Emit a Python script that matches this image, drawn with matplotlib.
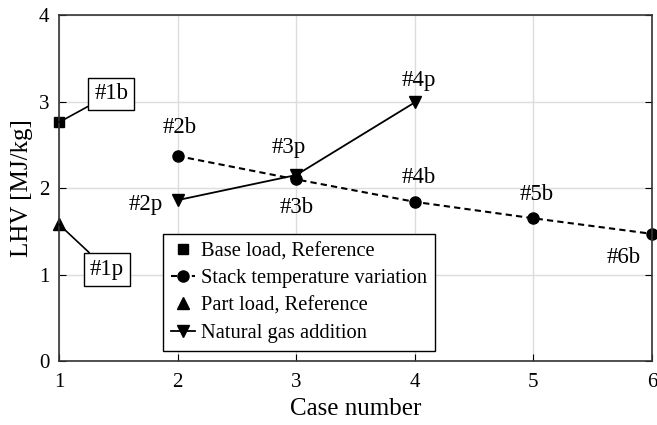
import matplotlib
matplotlib.use("Agg")
import matplotlib.pyplot as plt

plt.rcParams["font.family"] = ["Liberation Serif", "DejaVu Serif"]

# data
base_x = [1]
base_y = [2.76]
stack_x = [2, 3, 4, 5, 6]
stack_y = [2.37, 2.10, 1.84, 1.65, 1.47]
part_x = [1]
part_y = [1.58]
gas_x = [2, 3, 4]
gas_y = [1.86, 2.15, 2.99]

point_labels = ["#2b", "#3p", "#3b", "#2p", "#4p", "#4b", "#5b", "#6b"]
label_pos = [(2.02, 2.64), (2.94, 2.40), (3.0, 1.71), (1.73, 1.75),
             (4.03, 3.18), (4.03, 2.06), (5.03, 1.86), (5.76, 1.13)]

fig = plt.figure(figsize=(6.57, 4.25), dpi=100)
ax = fig.add_axes([0.0898, 0.1506, 0.9026, 0.814])

ax.plot(base_x, base_y, "s", color="black", ms=7, clip_on=False, label="Base load, Reference")
ax.plot(stack_x, stack_y, "--o", color="black", ms=8, lw=1.5, dashes=(3, 2), clip_on=False,
        label="Stack temperature variation")
ax.plot(part_x, part_y, "^", color="black", ms=8, clip_on=False, label="Part load, Reference")
ax.plot(gas_x, gas_y, "-v", color="black", ms=8, lw=1.3, label="Natural gas addition")

box = dict(boxstyle="square,pad=0.25", fc="white", ec="black", lw=1)
ax.annotate("#1b", xy=(base_x[0], base_y[0]), xytext=(1.44, 3.09), fontsize=16.5,
            ha="center", va="center", bbox=box,
            arrowprops=dict(arrowstyle="-", color="black", lw=1.2, shrinkA=0, shrinkB=0))
ax.annotate("#1p", xy=(part_x[0], part_y[0]), xytext=(1.405, 1.06), fontsize=16.5,
            ha="center", va="center", bbox=box,
            arrowprops=dict(arrowstyle="-", color="black", lw=1.2, shrinkA=0, shrinkB=0))

for txt, (px, py) in zip(point_labels, label_pos):
    ax.text(px, py, txt, fontsize=16.5, ha="center", va="baseline")

ax.set_xlim(1, 6)
ax.set_ylim(0, 4)
ax.set_xticks([1, 2, 3, 4, 5, 6])
ax.set_yticks([0, 1, 2, 3, 4])
ax.grid(color="#dcdcdc", lw=1)
ax.set_axisbelow(True)
ax.tick_params(direction="in", labelsize=15, length=5, top=False, right=True)
ax.tick_params(axis="x", pad=9)
ax.tick_params(axis="y", pad=7)
for s in ax.spines.values():
    s.set_linewidth(1.2)
    s.set_color("#333333")
ax.set_xlabel("Case number", fontsize=18, labelpad=4)
ax.set_ylabel("LHV [MJ/kg]", fontsize=18, labelpad=4)

leg = ax.legend(loc="lower left", bbox_to_anchor=(0.1753, 0.029), fontsize=14.8, frameon=True,
                fancybox=False, edgecolor="black", framealpha=1, handlelength=1.15,
                handletextpad=0.3, borderpad=0.4, labelspacing=0.38, borderaxespad=0)
leg.get_frame().set_linewidth(1)

fig.savefig("out.png", dpi=100)
